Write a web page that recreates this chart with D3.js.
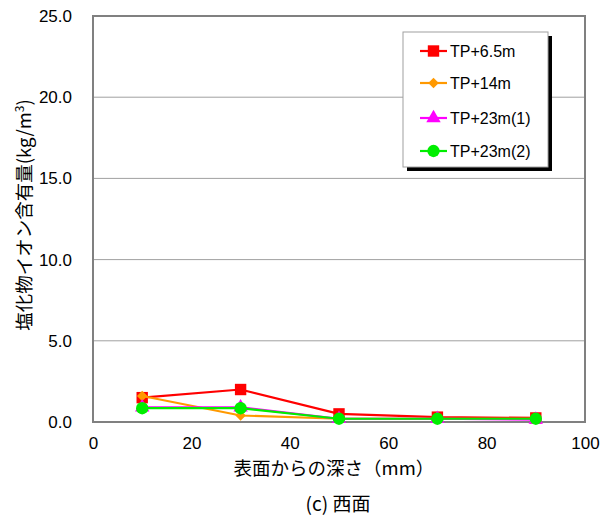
<!DOCTYPE html>
<html>
<head>
<meta charset="utf-8">
<script src="https://cdn.jsdelivr.net/npm/d3@7"></script>
<style>
  html, body { margin: 0; padding: 0; background: #fff; }
  svg { display: block; font-family: "Liberation Sans", "Noto Sans CJK JP", sans-serif; }
</style>
</head>
<body>
<svg id="chart" width="603" height="517"></svg>
<script>
// Depth from surface (mm)
const depths = [10, 30, 50, 70, 90];
// Chloride ion content (kg/m3) per elevation
const tp65 = [1.5, 2.0, 0.5, 0.3, 0.25];
const tp14 = [1.6, 0.4, 0.2, 0.2, 0.2];
const tp23a = [0.9, 0.9, 0.2, 0.2, 0.15];
const tp23b = [0.85, 0.85, 0.2, 0.2, 0.2];

const seriesNames = ["TP+6.5m", "TP+14m", "TP+23m(1)", "TP+23m(2)"];
const seriesColors = ["#ff0000", "#ff9900", "#ff00ff", "#00ee00"];
const seriesShapes = ["square", "diamond", "triangle", "circle"];
const seriesValues = [tp65, tp14, tp23a, tp23b];

const xTicks = [0, 20, 40, 60, 80, 100];
const yTicks = [0, 5, 10, 15, 20, 25];

const svg = d3.select("#chart");
const m = { left: 93, right: 585, top: 16, bottom: 422 };

const x = d3.scaleLinear().domain([0, 100]).range([m.left, m.right]);
const y = d3.scaleLinear().domain([0, 25]).range([m.bottom, m.top]);

// Horizontal gridlines
svg.append("g").selectAll("line").data(yTicks.filter(d => d > 0 && d < 25)).join("line")
  .attr("x1", m.left).attr("x2", m.right)
  .attr("y1", d => y(d)).attr("y2", d => y(d))
  .attr("stroke", "#a0a0a0").attr("stroke-width", 1);

// Y axis labels
const yAxis = d3.axisLeft(y).tickValues(yTicks).tickFormat(d3.format(".1f")).tickSize(0).tickPadding(21);
const gy = svg.append("g").attr("transform", `translate(${m.left},0)`).call(yAxis);
gy.select(".domain").remove();
gy.selectAll("text").attr("font-size", 17).attr("fill", "#000");

// X axis labels
const xAxis = d3.axisBottom(x).tickValues(xTicks).tickSize(0).tickPadding(15);
const gx = svg.append("g").attr("transform", `translate(0,${m.bottom})`).call(xAxis);
gx.select(".domain").remove();
gx.selectAll("text").attr("font-size", 17).attr("fill", "#000");

// Plot frame
svg.append("rect")
  .attr("x", m.left).attr("y", m.top)
  .attr("width", m.right - m.left).attr("height", m.bottom - m.top)
  .attr("fill", "none").attr("stroke", "#808080").attr("stroke-width", 2);

// Marker shapes: the diamond is a square turned 45 degrees
const markerDefs = {
  square:   { type: d3.symbolSquare,   size: 130, rot: 0 },
  diamond:  { type: d3.symbolSquare,   size: 55,  rot: 45 },
  triangle: { type: d3.symbolTriangle, size: 90,  rot: 0 },
  circle:   { type: d3.symbolCircle,   size: 120, rot: 0 }
};
function markerPath(shape) {
  const md = markerDefs[shape];
  return d3.symbol().type(md.type).size(md.size)();
}

// Series lines and markers
const line = d3.line().x((d, i) => x(depths[i])).y(d => y(d));
seriesValues.forEach((vals, k) => {
  const g = svg.append("g");
  const shape = seriesShapes[k];
  g.append("path").datum(vals)
    .attr("d", line).attr("fill", "none")
    .attr("stroke", seriesColors[k]).attr("stroke-width", 2.2);
  g.selectAll("path.mk").data(vals).join("path").attr("class", "mk")
    .attr("transform", (d, i) => `translate(${x(depths[i])},${y(d)}) rotate(${markerDefs[shape].rot})`)
    .attr("d", markerPath(shape))
    .attr("fill", seriesColors[k]);
});

// Legend with drop shadow
const lg = { x: 403, y: 32, w: 145, h: 135 };
svg.append("rect").attr("x", lg.x + 4).attr("y", lg.y + 4).attr("width", lg.w).attr("height", lg.h).attr("fill", "#000");
svg.append("rect").attr("x", lg.x).attr("y", lg.y).attr("width", lg.w).attr("height", lg.h)
  .attr("fill", "#fff").attr("stroke", "#a0a0a0").attr("stroke-width", 1);
const legendRowY = [51, 83, 118, 151];
seriesNames.forEach((name, k) => {
  const ry = legendRowY[k];
  const shape = seriesShapes[k];
  svg.append("line").attr("x1", 420).attr("x2", 447).attr("y1", ry).attr("y2", ry)
    .attr("stroke", seriesColors[k]).attr("stroke-width", 2.2);
  svg.append("path").attr("transform", `translate(433.5,${ry}) rotate(${markerDefs[shape].rot})`)
    .attr("d", markerPath(shape))
    .attr("fill", seriesColors[k]);
  svg.append("text").attr("x", 450).attr("y", ry).attr("dy", "0.36em")
    .attr("font-size", 16).attr("fill", "#000").text(name);
});

// Axis titles and caption
svg.append("text").attr("transform", "translate(24,215) rotate(-90)")
  .attr("text-anchor", "middle").attr("dy", "0.36em")
  .attr("font-family", "'Noto Sans CJK JP', sans-serif").attr("font-size", 18.5).attr("fill", "#000")
  .html('塩化物イオン含有量(kg/m<tspan dy="-7" font-size="12">3</tspan><tspan dy="7">)</tspan>');

svg.append("text").attr("x", 334).attr("y", 468).attr("text-anchor", "middle").attr("dy", "0.36em")
  .attr("font-family", "'Noto Sans CJK JP', sans-serif").attr("font-size", 18.5).attr("fill", "#000")
  .text("表面からの深さ（mm）");

svg.append("text").attr("x", 338).attr("y", 504).attr("text-anchor", "middle").attr("dy", "0.36em")
  .attr("font-family", "'Noto Sans CJK JP', sans-serif").attr("font-size", 19).attr("fill", "#000")
  .text("(c) 西面");
</script>
</body>
</html>
